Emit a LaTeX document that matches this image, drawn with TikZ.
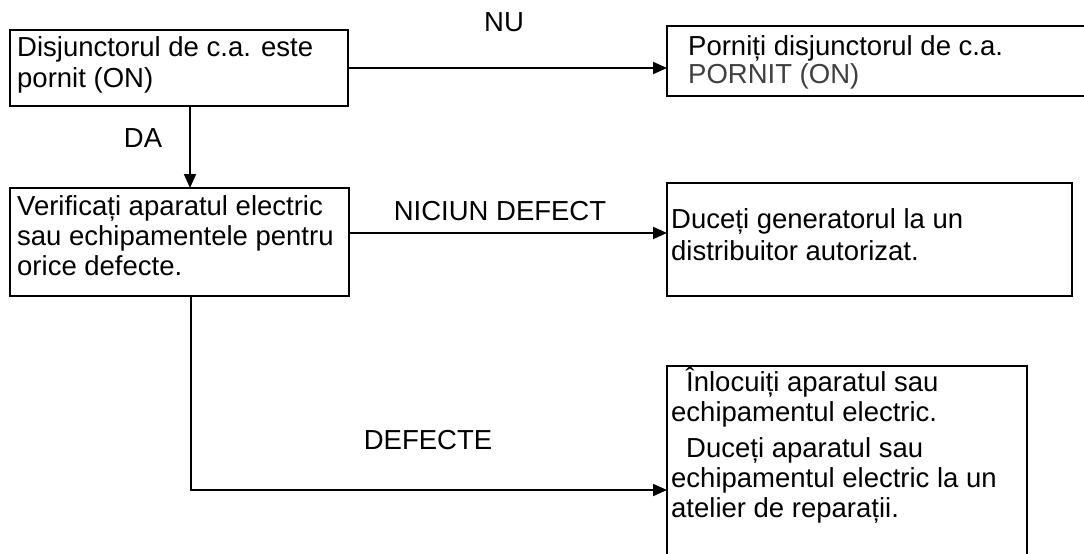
\documentclass[tikz,border=0pt]{standalone}
\usepackage{fontspec}
\setmainfont{Liberation Sans}
\usetikzlibrary{arrows.meta}
\definecolor{pgray}{RGB}{64,64,64}
\begin{document}
\begin{tikzpicture}[x=1pt,y=-1pt,
 box/.style={draw=black, line width=2pt, inner sep=0pt, outer sep=0pt, anchor=north west},
 txt/.style={inner sep=0pt, anchor=base west},
 lbl/.style={inner sep=0pt, font=\fontsize{27.5}{30}\selectfont},
 arr/.style={line width=2pt, -{Triangle[length=14pt,width=12pt]}}]
\clip (0,0) rectangle (1084,554);
% boxes
\node[box, minimum width=338pt, minimum height=76pt] (a) at (10,30) {};
\node[box, minimum width=433pt, minimum height=70pt] (b) at (667,26) {};
\node[box, minimum width=339pt, minimum height=108pt] (c) at (10,188) {};
\node[box, minimum width=405pt, minimum height=113pt] (d) at (667,183) {};
\node[box, minimum width=360pt, minimum height=210pt] (e) at (667,366) {};
% texts
\node[txt, font=\fontsize{27.5}{31}\selectfont] (ta) at (17,56)
 {\begin{tabular}[t]{@{}l@{}}Disjunctorul de c.a. este\\pornit (ON)\end{tabular}};
\node[txt, font=\fontsize{27.5}{27}\selectfont] (tb) at (673,55)
 {\begin{tabular}[t]{@{}l@{}}\hspace{15pt}Porniți disjunctorul de c.a.\\\hspace{15pt}{\color{pgray}PORNIT (ON)}\end{tabular}};
\node[txt, font=\fontsize{27.5}{30}\selectfont] (tc) at (17,215)
 {\begin{tabular}[t]{@{}l@{}}Verificați aparatul electric\\sau echipamentele pentru\\orice defecte.\end{tabular}};
\node[txt, font=\fontsize{27.5}{32}\selectfont] (td) at (671,228)
 {\begin{tabular}[t]{@{}l@{}}Duceți generatorul la un\\distribuitor autorizat.\end{tabular}};
\node[txt, font=\fontsize{27.5}{30}\selectfont] (te) at (671,391)
 {\begin{tabular}[t]{@{}l@{}}\hspace{15pt}Înlocuiți aparatul sau\\echipamentul electric.\\[6pt]\hspace{15pt}Duceți aparatul sau\\echipamentul electric la un\\atelier de reparații.\end{tabular}};
% connectors
\draw[arr] (a.east) -- (a.east -| b.west);
\draw[arr] ([xshift=11pt]a.south) -- ([xshift=11pt]a.south |- c.north);
\draw[arr] ([yshift=9pt]c.east) -- ([yshift=9pt]c.east -| d.west);
\coordinate (dk) at (191,490);
\draw[arr] (c.south -| dk) -- (dk) -- (dk -| e.west);
% labels
\node[lbl] (nu) at (504,22) {NU};
\node[lbl] (da) at (143,138) {DA};
\node[lbl] (nd) at (500,211) {NICIUN DEFECT};
\node[lbl] (df) at (428,440) {DEFECTE};
\end{tikzpicture}
\end{document}
